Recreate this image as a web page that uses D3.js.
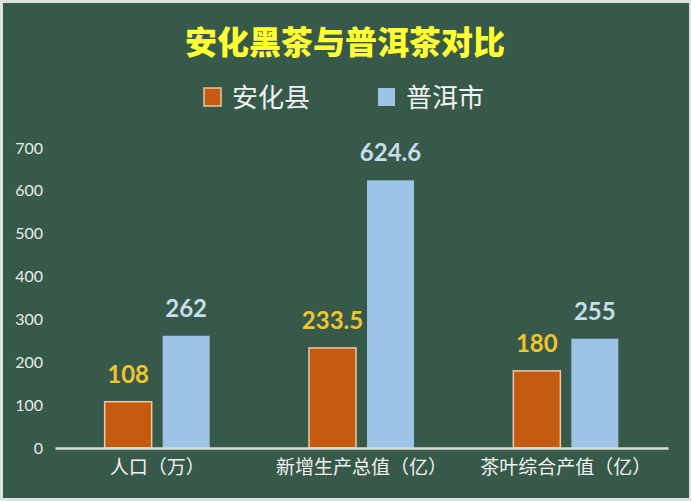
<!DOCTYPE html>
<html><head><meta charset="utf-8">
<script src="https://cdn.jsdelivr.net/npm/d3@7"></script>
<style>html,body{margin:0;padding:0;background:#dbe3dd;}svg{display:block;}</style>
</head><body>
<svg id="chart" width="691" height="501"></svg>
<script>
const categories = ["人口（万）", "新增生产总值（亿）", "茶叶综合产值（亿）"];
const seriesNames = ["安化县", "普洱市"];
const anhuaValues = [108, 233.5, 180];
const puerValues = [262, 624.6, 255];
const yTicks = [0, 100, 200, 300, 400, 500, 600, 700];
const colors = ["#c55a11", "#9dc3e6"];
const labelColors = ["#f2c42c", "#c8dcea"];

const svg = d3.select("#chart");
const W = 691, H = 501;
svg.append("rect").attr("x", 0).attr("y", 0).attr("width", W).attr("height", H).attr("fill", "#dbe3dd");
svg.append("rect").attr("x", 3).attr("y", 3).attr("width", W - 5).attr("height", H - 6).attr("fill", "#36594a");

const margin = {left: 55, right: 23, top: 148, bottom: 53};
const x0 = d3.scaleBand().domain(categories).range([margin.left, W - margin.right]).padding(0);
const x1 = d3.scaleBand().domain(seriesNames).range([0, x0.bandwidth()]).paddingInner(0.19).paddingOuter(0.856);
const y = d3.scaleLinear().domain([0, 700]).range([H - margin.bottom, margin.top]);

// title
svg.append("text").attr("x", 345).attr("y", 54).attr("text-anchor", "middle")
  .attr("font-family", "Noto Sans CJK SC").attr("font-weight", 900).attr("font-size", 32)
  .attr("fill", "#ffff33").text("安化黑茶与普洱茶对比");

// legend
const legendItems = [{name: seriesNames[0], x: 204}, {name: seriesNames[1], x: 378}];
legendItems.forEach((d, i) => {
  svg.append("rect").attr("x", d.x).attr("y", 88).attr("width", 17).attr("height", 18)
    .attr("fill", colors[i]).attr("stroke", i === 0 ? "#e8c3a0" : "none").attr("stroke-width", 1.5);
  svg.append("text").attr("x", d.x + 28).attr("y", 107)
    .attr("font-family", "Noto Sans CJK SC").attr("font-size", 26).attr("fill", "#f2f2f2").text(d.name);
});

// y axis
const yAxis = d3.axisLeft(y).tickValues(yTicks).tickSize(0).tickPadding(12);
const gy = svg.append("g").attr("transform", `translate(${margin.left},0)`).call(yAxis);
gy.select(".domain").remove();
gy.selectAll("text").attr("font-family", "Lato").attr("font-size", 16).attr("fill", "#e8ece9");

// bars
const data = categories.map((c, i) => ({cat: c, vals: [anhuaValues[i], puerValues[i]]}));
const groups = svg.append("g").selectAll("g").data(data).join("g")
  .attr("transform", d => `translate(${x0(d.cat)},0)`);
groups.selectAll("rect").data(d => d.vals.map((v, i) => ({v, s: seriesNames[i], i})))
  .join("rect")
  .attr("x", d => x1(d.s)).attr("width", x1.bandwidth())
  .attr("y", d => y(d.v)).attr("height", d => y(0) - y(d.v))
  .attr("fill", d => colors[d.i])
  .attr("stroke", d => d.i === 0 ? "#eec9a5" : "none").attr("stroke-width", 1.5);
groups.selectAll("text.val").data(d => d.vals.map((v, i) => ({v, s: seriesNames[i], i})))
  .join("text").attr("class", "val")
  .attr("x", d => x1(d.s) + x1.bandwidth() / 2).attr("y", d => y(d.v) - 19)
  .attr("text-anchor", "middle").attr("font-family", "Lato").attr("font-weight", 700)
  .attr("font-size", 24).attr("fill", d => labelColors[d.i]).text(d => d.v);

// x axis
const xAxis = d3.axisBottom(x0).tickSize(0).tickPadding(13);
const gx = svg.append("g").attr("transform", `translate(0,${y(0)})`).call(xAxis);
gx.select(".domain").attr("stroke", "#d9dedb").attr("stroke-width", 2.5);
gx.selectAll("text").attr("font-family", "Noto Sans CJK SC").attr("font-size", 19).attr("fill", "#f2f2f2");
</script>
</body></html>
